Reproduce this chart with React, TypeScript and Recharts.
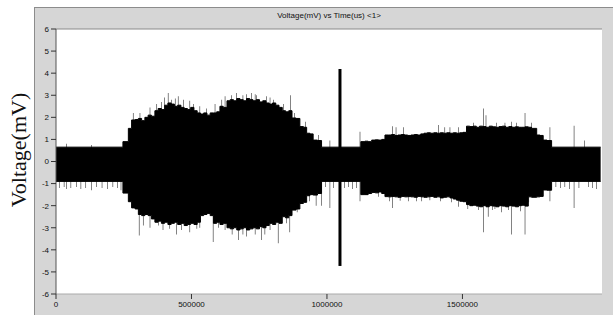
import React from 'react';
import {
  ComposedChart,
  Area,
  Bar,
  XAxis,
  YAxis,
  CartesianGrid,
  ReferenceLine
} from 'recharts';

// envelope of the dense recording (time in us, voltage in mV)
const envTime = [
  0, 247000, 267000, 279000, 292000, 304000, 316000, 328000, 340000, 352000,
  365000, 377000, 389000, 401000, 413000, 425000, 437000, 449000, 461000, 473000,
  485000, 497000, 509000, 521000, 533000, 545000, 557000, 569000, 581000, 593000,
  605000, 617000, 631000, 643000, 655000, 667000, 679000, 691000, 703000, 715000,
  727000, 739000, 751000, 763000, 775000, 787000, 799000, 811000, 823000, 835000,
  847000, 859000, 871000, 886000, 900000, 913000, 925000, 937000, 949000, 965000,
  980000, 1125000, 1140000, 1152000, 1165000, 1178000, 1190000, 1202000, 1214000, 1226000,
  1238000, 1250000, 1262000, 1274000, 1286000, 1298000, 1310000, 1322000, 1334000, 1346000,
  1358000, 1370000, 1382000, 1394000, 1406000, 1418000, 1430000, 1442000, 1454000, 1466000,
  1478000, 1490000, 1502000, 1515000, 1527000, 1539000, 1551000, 1563000, 1575000, 1587000,
  1599000, 1611000, 1623000, 1635000, 1647000, 1659000, 1671000, 1683000, 1695000, 1707000,
  1719000, 1731000, 1743000, 1755000, 1774000, 1786000, 1798000, 1812000, 1829000, 2010000
];
const envUpper = [
  0.65, 0.9, 1.5, 1.88, 1.9, 1.95, 1.85, 2.0, 2.1, 2.05,
  2.3, 2.4, 2.35, 2.55, 2.65, 2.6, 2.5, 2.55, 2.45, 2.4,
  2.35, 2.45, 2.3, 2.2, 2.15, 2.2, 2.1, 2.2, 2.2, 2.25,
  2.5, 2.45, 2.75, 2.8, 2.75, 2.85, 2.8, 2.75, 2.85, 2.8,
  2.75, 2.8, 2.7, 2.75, 2.65, 2.6, 2.65, 2.55, 2.45, 2.3,
  2.25, 2.3, 1.97, 1.95, 1.58, 1.55, 1.28, 1.25, 0.97, 0.95,
  0.65, 0.9, 0.92, 0.9, 0.97, 0.98, 0.97, 1.0, 1.2, 1.2,
  1.22, 1.18, 1.2, 1.22, 1.2, 1.18, 1.2, 1.22, 1.2, 1.25,
  1.28, 1.3, 1.28, 1.3, 1.28, 1.3, 1.28, 1.3, 1.28, 1.3,
  1.28, 1.3, 1.32, 1.6, 1.58, 1.6, 1.55, 1.6, 1.58, 1.55,
  1.6, 1.57, 1.55, 1.58, 1.6, 1.55, 1.58, 1.55, 1.57, 1.55,
  1.55, 1.57, 1.55, 1.5, 1.2, 1.18, 0.97, 0.95, 0.65, 0.65
];
const envLower = [
  -0.9, -1.43, -1.82, -2.1, -2.15, -2.4, -2.45, -2.4, -2.45, -2.6,
  -2.75, -2.7, -2.8, -2.75, -2.85, -2.8, -2.75, -2.85, -2.8, -2.9,
  -2.85, -2.8, -2.85, -2.75, -2.45, -2.4, -2.35, -2.45, -2.8, -2.75,
  -2.85, -2.8, -3.0, -3.05, -3.0, -3.1, -3.05, -3.0, -3.1, -3.05,
  -3.0, -3.05, -2.95, -3.0, -2.9, -2.8, -2.85, -2.75, -2.8, -2.5,
  -2.55, -2.45, -2.2, -2.15, -1.9, -1.85, -1.55, -1.5, -1.52, -1.45,
  -0.9, -1.5, -1.5, -1.45, -1.4, -1.42, -1.38, -1.45, -1.59, -1.6,
  -1.58, -1.6, -1.62, -1.58, -1.6, -1.59, -1.6, -1.62, -1.58, -1.6,
  -1.62, -1.6, -1.58, -1.62, -1.6, -1.65, -1.62, -1.6, -1.65, -1.7,
  -1.75, -1.8, -1.82, -1.95, -2.0, -1.98, -2.02, -2.05, -2.0, -2.05,
  -2.0, -2.02, -2.05, -2.0, -2.02, -2.05, -2.0, -2.02, -2.05, -2.0,
  -1.98, -2.02, -1.6, -1.62, -1.6, -1.58, -1.29, -1.3, -0.9, -0.9
];

// single excursions sticking out of the envelope
const spikeTime = [
  12000, 30000, 39000, 55000, 75000, 92000, 110000, 132000, 150000, 170000,
  190000, 210000, 228000, 240000, 285000, 307000, 310000, 322000, 347000, 372000,
  378000, 390000, 395000, 400000, 414000, 420000, 427000, 440000, 445000, 451000,
  464000, 470000, 494000, 508000, 520000, 531000, 555000, 580000, 587000, 600000,
  612000, 624000, 648000, 650000, 667000, 673000, 690000, 704000, 722000, 735000,
  741000, 759000, 771000, 777000, 790000, 802000, 820000, 840000, 850000, 863000,
  866000, 880000, 890000, 920000, 935000, 960000, 968000, 980000, 995000, 1011000,
  1025000, 1065000, 1080000, 1095000, 1110000, 1122000, 1190000, 1230000, 1242000, 1255000,
  1270000, 1282000, 1300000, 1330000, 1350000, 1380000, 1411000, 1420000, 1435000, 1454000,
  1460000, 1485000, 1520000, 1540000, 1560000, 1577000, 1587000, 1595000, 1610000, 1620000,
  1626000, 1645000, 1657000, 1670000, 1682000, 1700000, 1715000, 1731000, 1745000, 1755000,
  1823000, 1845000, 1862000, 1878000, 1895000, 1912000, 1930000, 1950000, 1965000, 1980000,
  1995000
];
const spikeUpper = [
  0, 0, 0.8, 0, 0, 0, 0, 0.75, 0, 0,
  0, 0, 0, 0, 2.2, 0, 2.2, 0, 2.45, 2.6,
  0, 2.7, 0, 2.9, 3.1, 0, 2.8, 2.85, 0, 2.95,
  0, 2.8, 2.75, 2.6, 0, 2.5, 2.4, 0, 2.6, 0,
  2.8, 2.95, 3.0, 0, 3.1, 0, 3.0, 3.05, 3.1, 3.05,
  3.0, 0, 0, 2.95, 2.9, 2.8, 0, 2.6, 0, 0,
  3.0, 2.2, 0, 1.8, 0, 0, 1.2, 0, 0, 0.95,
  0, 0, 0, 0, 0, 1.35, 0, 0, 1.6, 1.55,
  0, 1.55, 0, 0, 0, 0, 1.65, 0, 1.55, 1.55,
  0, 1.55, 0, 1.75, 0, 2.4, 2.1, 0, 0, 0,
  1.75, 0, 1.75, 0, 1.8, 1.75, 0, 2.2, 0, 1.75,
  1.55, 0, 0, 0, 0, 1.62, 0, 0.95, 0, 0,
  0
];
const spikeLower = [
  -1.2, -1.15, -1.25, -1.2, -1.15, -1.25, -1.2, -1.3, -1.15, -1.2,
  -1.25, -1.15, -1.2, -1.3, 0, -3.35, 0, -2.9, -3.0, 0,
  -2.9, 0, -3.1, 0, 0, -3.05, 0, 0, -3.3, 0,
  -3.1, 0, -3.2, 0, -3.05, -3.0, 0, -3.65, 0, -3.0,
  0, -3.1, 0, -3.3, 0, -3.55, -3.3, -3.4, 0, -3.3,
  0, -3.55, -3.3, 0, -3.1, 0, -3.7, 0, -2.8, -3.2,
  0, 0, -2.3, 0, -1.8, -2.0, 0, -2.0, -1.15, -2.1,
  -1.2, -1.2, -1.15, -1.25, -1.2, -1.8, -1.6, -1.8, -2.1, 0,
  -1.78, 0, -1.8, -1.8, -1.8, -1.75, 0, -1.8, 0, 0,
  -1.85, -2.05, -2.15, 0, -2.2, -3.2, 0, -2.5, -2.2, -2.15,
  0, -2.3, 0, -2.2, -3.3, 0, -2.25, -3.3, -1.85, 0,
  -1.8, -1.15, -1.2, -1.15, -1.25, -2.1, -1.2, 0, -1.15, -1.2,
  -1.25
];

// stimulus artefact
const pulseTime = 1048000;
const pulseUpper = 4.19;
const pulseLower = -4.73;

const xTicks = [0, 500000, 1000000, 1500000];
const yTicks = [-6, -5, -4, -3, -2, -1, 0, 1, 2, 3, 4, 5, 6];
const xDomain: [number, number] = [0, 2015000];
const yDomain: [number, number] = [-6, 6];

const envData = envTime.map((t, i) => ({ t, env: [envLower[i], envUpper[i]] }));
const spikeData = spikeTime.map((t, i) => ({ t, spike: [spikeLower[i], spikeUpper[i]] }));

const W = 613;
const H = 315;
const margin = { top: 29, right: 11, bottom: 0, left: 0 };
const tickFont = { fontSize: 8, fill: '#111', fontFamily: 'Liberation Sans, Arial, sans-serif' };

const Axes: React.FC<{ visible: boolean }> = ({ visible }) => (
  <>
    <XAxis
      dataKey="t"
      type="number"
      domain={xDomain}
      ticks={xTicks}
      allowDataOverflow
      height={21}
      tickSize={5}
      tickMargin={2}
      tick={visible ? tickFont : false}
      tickLine={visible ? { stroke: '#333' } : false}
      axisLine={visible ? { stroke: '#aaa' } : false}
    />
    <YAxis
      type="number"
      domain={yDomain}
      ticks={yTicks}
      allowDataOverflow
      width={56}
      tickSize={5}
      tickMargin={2}
      interval={0}
      tick={visible ? tickFont : false}
      tickLine={visible ? { stroke: '#333' } : false}
      axisLine={visible ? { stroke: '#555' } : false}
    />
  </>
);

export default function App() {
  return (
    <div style={{ position: 'fixed', left: 0, top: 0, width: W, height: H, background: '#fff', overflow: 'hidden' }}>
      <div
        style={{
          position: 'absolute',
          left: 34,
          top: 7,
          width: W - 34,
          height: H - 7,
          background: '#d6d6d6',
          borderTop: '1px solid #8c8c8c',
          borderLeft: '1px solid #8c8c8c',
          boxSizing: 'border-box'
        }}
      />
      <div
        style={{
          position: 'absolute',
          left: 56,
          width: 546,
          top: 10,
          lineHeight: '11px',
          textAlign: 'center',
          fontSize: 8,
          color: '#111',
          fontFamily: 'Liberation Sans, Arial, sans-serif'
        }}
      >
        Voltage(mV) vs Time(us) &lt;1&gt;
      </div>
      <svg width={40} height={H} style={{ position: 'absolute', left: 0, top: 0 }}>
        <text
          x={26}
          y={150}
          transform="rotate(-90 26 150)"
          textAnchor="middle"
          fontSize={22}
          fill="#111"
          fontFamily="Liberation Serif, Times New Roman, serif"
        >
          Voltage(mV)
        </text>
      </svg>

      <div style={{ position: 'absolute', left: 0, top: 0 }}>
        <ComposedChart width={W} height={H} data={envData} margin={margin}>
          <CartesianGrid fill="#fff" horizontal={false} vertical={false} />
          {Axes({ visible: true })}
          <ReferenceLine y={6} stroke="#8a8a8a" />
          <Area
            type="stepAfter"
            dataKey="env"
            stroke="#000"
            strokeWidth={1}
            fill="#000"
            fillOpacity={1}
            dot={false}
            activeDot={false}
            isAnimationActive={false}
          />
        </ComposedChart>
      </div>

      <div style={{ position: 'absolute', left: 0, top: 0 }}>
        <ComposedChart width={W} height={H} data={spikeData} margin={margin}>
          {Axes({ visible: false })}
          <Bar dataKey="spike" fill="#000" barSize={2} isAnimationActive={false} />
          <ReferenceLine
            segment={[
              { x: pulseTime, y: pulseLower },
              { x: pulseTime, y: pulseUpper }
            ]}
            stroke="#000"
            strokeWidth={3}
          />
        </ComposedChart>
      </div>
    </div>
  );
}
